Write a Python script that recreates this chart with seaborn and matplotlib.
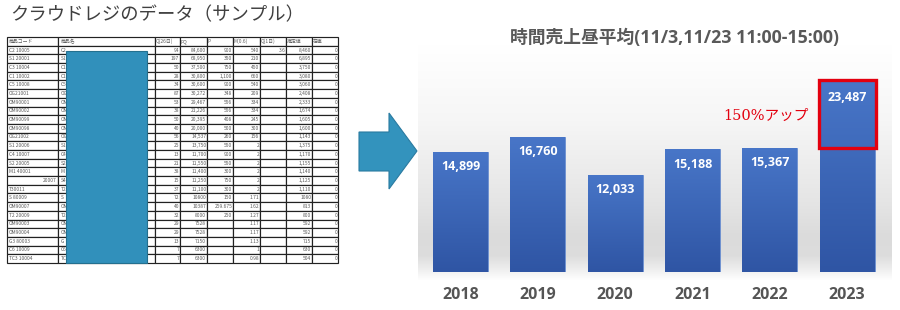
import numpy as np
import pandas as pd
import matplotlib.pyplot as plt
import seaborn as sns
from matplotlib.colors import LinearSegmentedColormap
from matplotlib.patches import Rectangle, Polygon

# chart data
years = ['2018', '2019', '2020', '2021', '2022', '2023']
sales = [14899, 16760, 12033, 15188, 15367, 23487]
chart_title = '時間売上昼平均(11/3,11/23 11:00-15:00)'
note = '150%アップ'
table_title = 'クラウドレジのデータ（サンプル）'

# table data (screenshot on the left)
col_labels = ['商品コード', '商品名', 'Q(26日)', 'PQ', 'P', 'M(0.6)', 'Q(1日)', '推定値', '在庫']
codes = ['C2 10005', 'S1 20001', 'C3 10004', 'C1 10002', 'C5 10008', 'OG21001', 'OM90001',
         'OM90002', 'OM90099', 'OM90098', 'OG21002', 'S1 20006', 'C4 10007', 'S2 20005',
         'M1 40001', '20007', 'T30011', 'S 80009', 'OM90007', 'T2 20009', 'OM90003',
         'OM90004', 'G3 80003', 'C6 10009', 'TC3 10004']
names = ['C2', 'S1', 'C1', 'C1', 'C5', 'OG', 'OM', 'OM', 'OM', 'OM', 'OG', 'S1', 'C4',
         'S2', 'M', 'S4', 'T2', 'S', 'OM', 'T2', 'OM', 'OM', 'G', 'C6', 'TC']
q26 = ['94', '197', '50', '28', '34', '87', '53', '38', '50', '40', '56', '25', '13',
       '21', '38', '15', '37', '72', '40', '32', '29', '29', '13', '7', '7']
pq = ['84,600', '68,950', '37,500', '30,800', '30,600', '30,272', '29,467', '21,226',
      '20,395', '20,000', '14,537', '13,750', '11,700', '11,550', '11,400', '11,250',
      '11,100', '10800', '10387', '8000', '7528', '7528', '7150', '6300', '6300']
price = ['900', '350', '750', '1,100', '900', '348', '556', '556', '408', '500', '260',
         '550', '900', '550', '300', '750', '300', '150', '259.675', '250', '', '', '', '', '']
m06 = ['540', '210', '450', '660', '540', '209', '334', '334', '245', '300', '156', '2',
       '2', '2', '2', '2', '2', '1.71', '1.62', '1.27', '1.17', '1.17', '1.13', '1', '0.98']
q1 = ['3.6'] + [''] * 24
est = ['8,460', '6,895', '3,750', '3,080', '3,060', '2,408', '2,333', '1,674', '1,605',
       '1,600', '1,143', '1,375', '1,170', '1,155', '1,140', '1,125', '1,110', '1080',
       '813', '800', '592', '592', '715', '630', '504']
stock = ['0'] * 25

sns.set_theme(style='white')
plt.rcParams['font.family'] = ['Open Sans', 'Noto Sans CJK JP', 'DejaVu Sans']

W, H = 900, 310
fig = plt.figure(figsize=(9, 3.1), dpi=100)


def px_axes(x0, y0, x1, y1):
    return fig.add_axes([x0 / W, 1 - y1 / H, (x1 - x0) / W, (y1 - y0) / H])


# ---- left: table screenshot ----
fig.text(10 / W, 1 - 15 / H, table_title, fontsize=13.2, color='#404040',
         ha='left', va='center', family=['Noto Sans CJK JP', 'DejaVu Sans'])

ax_t = px_axes(7, 37, 338, 263)
ax_t.axis('off')
rows = list(zip(codes, names, q26, pq, price, m06, q1, est, stock))
widths = [51, 97, 25, 27, 26, 27, 26, 26, 26]
tbl = ax_t.table(cellText=rows, colLabels=col_labels, bbox=[0, 0, 1, 1],
                 colWidths=[w / sum(widths) for w in widths], cellLoc='right')
tbl.auto_set_font_size(False)
tbl.set_fontsize(3.5)
for (r, c), cell in tbl.get_celld().items():
    cell.set_edgecolor('#222222')
    cell.set_linewidth(0.85)
    cell.set_facecolor('white')
    cell.get_text().set_color('#5a5a5a')
    cell.get_text().set_family(['Noto Sans CJK JP', 'DejaVu Sans'])
    left = (r == 0) or (c == 1) or (c == 0 and not rows[r - 1][0][0].isdigit())
    if left:
        cell._loc = 'left'
        cell.get_text().set_horizontalalignment('left')
    cell.PAD = 0.03

# redaction block over the product names
ax_t.add_patch(Rectangle((59 / 331, 0.0), 81 / 331, 212 / 226, transform=ax_t.transAxes,
                         facecolor='#3190bb', edgecolor='#24708f', lw=0.8, zorder=10,
                         clip_on=False))

# ---- arrow ----
ax_o = px_axes(0, 0, W, H)
ax_o.set_xlim(0, W)
ax_o.set_ylim(H, 0)
ax_o.axis('off')
ax_o.add_patch(Polygon([(359, 132), (389, 132), (389, 113), (417, 151), (389, 189),
                        (389, 171), (359, 171)], closed=True,
                       facecolor='#3393bd', edgecolor='#2a7aa0', lw=0.8))

# ---- right: bar chart ----
ax_bg = px_axes(418, 45, 892, 300)
ax_bg.axis('off')
ys = np.array([45, 120, 200, 235, 255, 268, 280, 300])
gs = np.array([1.0, 0.965, 0.9, 0.86, 0.865, 0.93, 1.0, 1.0])
col = np.interp(np.arange(45, 300), ys, gs)
ax_bg.imshow(np.repeat(col[:, None], 2, axis=1)[:, :, None].repeat(3, axis=2),
             aspect='auto', extent=[0, 1, 0, 1], interpolation='bilinear')

fig.text(675 / W, 1 - 38 / H, chart_title, fontsize=12.8, fontweight='bold',
         color='#595959', ha='center', va='center')

ax = px_axes(421.8, 62, 885.8, 272)
ax.patch.set_alpha(0)
df = pd.DataFrame({'year': years, 'sales': sales})
sns.barplot(data=df, x='year', y='sales', color='#4472c4', saturation=1,
            width=0.71, ax=ax, edgecolor='#6b8fd0', linewidth=0.6)
ax.set_xlim(-0.5, 5.5)
ax.set_ylim(0, 26000)

cmap = LinearSegmentedColormap.from_list('bar', ['#4876c8', '#2f55a4'])
grad = np.linspace(0, 1, 256).reshape(-1, 1)
for p in ax.patches:
    x0, y0 = p.get_x(), p.get_y()
    im = ax.imshow(grad, extent=[x0, x0 + p.get_width(), y0, y0 + p.get_height()],
                   aspect='auto', cmap=cmap, zorder=p.get_zorder() + 0.1)
    im.set_clip_path(p)
ax.set_xlim(-0.5, 5.5)
ax.set_ylim(0, 26000)

for i, v in enumerate(sales):
    ax.annotate(f'{v:,}', (i, v), xytext=(0, -15), textcoords='offset pixels',
                ha='center', va='center', color='white', fontsize=9,
                fontweight='bold', zorder=5)

# highlight the last year
ax.add_patch(Rectangle((5 - 0.37, sales[4]), 0.74, sales[5] - sales[4] + 300,
                       fill=False, edgecolor='#e3000f', lw=2.4, zorder=6))
ax.text(3.95, 19300, note, color='#e3000f', fontsize=10.5, ha='center', va='center',
        family=['DejaVu Serif', 'Noto Sans CJK JP'])

ax.set_xlabel('')
ax.set_ylabel('')
ax.set_yticks([])
ax.tick_params(axis='x', length=0, pad=11, labelsize=11.5, labelcolor='#555555')
for t in ax.get_xticklabels():
    t.set_fontweight('bold')
sns.despine(ax=ax, left=True, bottom=True)

fig.savefig('out.png', dpi=100)
